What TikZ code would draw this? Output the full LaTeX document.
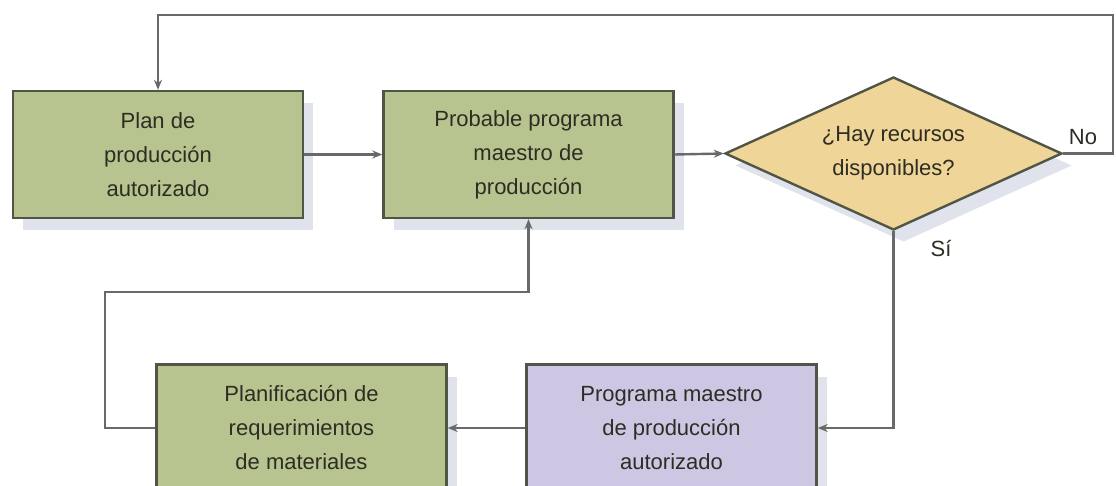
\documentclass[tikz,border=0pt]{standalone}
\usepackage{fontspec}
\setmainfont{Liberation Sans}
\usetikzlibrary{arrows.meta,shapes.geometric,shadows}
\definecolor{boxgreen}{RGB}{183,196,143}
\definecolor{boxpurple}{RGB}{206,199,228}
\definecolor{boxtan}{RGB}{240,213,152}
\definecolor{boxborder}{RGB}{80,85,70}
\definecolor{linegray}{RGB}{105,105,105}
\definecolor{shadowgray}{RGB}{224,227,236}
\definecolor{textdark}{RGB}{45,45,35}
\tikzset{
  shade box/.style={drop shadow={shadow xshift=10pt,shadow yshift=-12pt,fill=shadowgray,opacity=1}},
  procbox/.style={draw=boxborder,line width=2.4pt,fill=boxgreen,minimum width=290pt,minimum height=127pt,
    inner sep=0pt,align=center,text=textdark,font=\fontsize{22}{34}\selectfont,shade box},
  purplebox/.style={procbox,fill=boxpurple},
  decision/.style={diamond,aspect=2.2,draw=boxborder,line width=2.4pt,fill=boxtan,minimum width=337pt,minimum height=153pt,
    inner sep=0pt,align=center,text=textdark,font=\fontsize{22}{34}\selectfont,shade box},
  conn/.style={draw=linegray,line width=2.4pt},
  arr/.style={conn,-{Stealth[length=10pt,width=8pt]}},
  lbl/.style={text=textdark,font=\fontsize{22}{26}\selectfont,inner sep=0pt}
}
\begin{document}
\begin{tikzpicture}[x=1pt,y=-1pt]
\useasboundingbox (0,0) rectangle (1116,486);
\fill[white] (0,0) rectangle (1116,486);
\node[procbox] (b1) at (158,154.5) {Plan de\\producción\\autorizado};
\node[procbox] (b2) at (528.5,154.5) {Probable programa\\maestro de\\producción};
\node[decision] (dec) at (893.5,153.5) {¿Hay recursos\\disponibles?};
\node[procbox] (b3) at (301.5,428) {Planificación de\\requerimientos\\de materiales};
\node[purplebox] (b4) at (671.5,428) {Programa maestro\\de producción\\autorizado};
\coordinate (ne) at (1113,15);
\coordinate (lw) at (105,292);
\node[lbl] (no) at (1083,137) {No};
\node[lbl] (si) at (941,249) {Sí};
\draw[arr] (dec.east) -- (dec.east -| ne) -- (ne) -| (b1.north);
\draw[arr] (b1.east) -- (b2.west);
\draw[arr] (b2.east) -- (dec.west);
\draw[arr] (dec.south) |- (b4.east);
\draw[arr] (b4.west) -- (b3.east);
\draw[arr] (b3.west) -| (lw) -| (b2.south);
\end{tikzpicture}
\end{document}
